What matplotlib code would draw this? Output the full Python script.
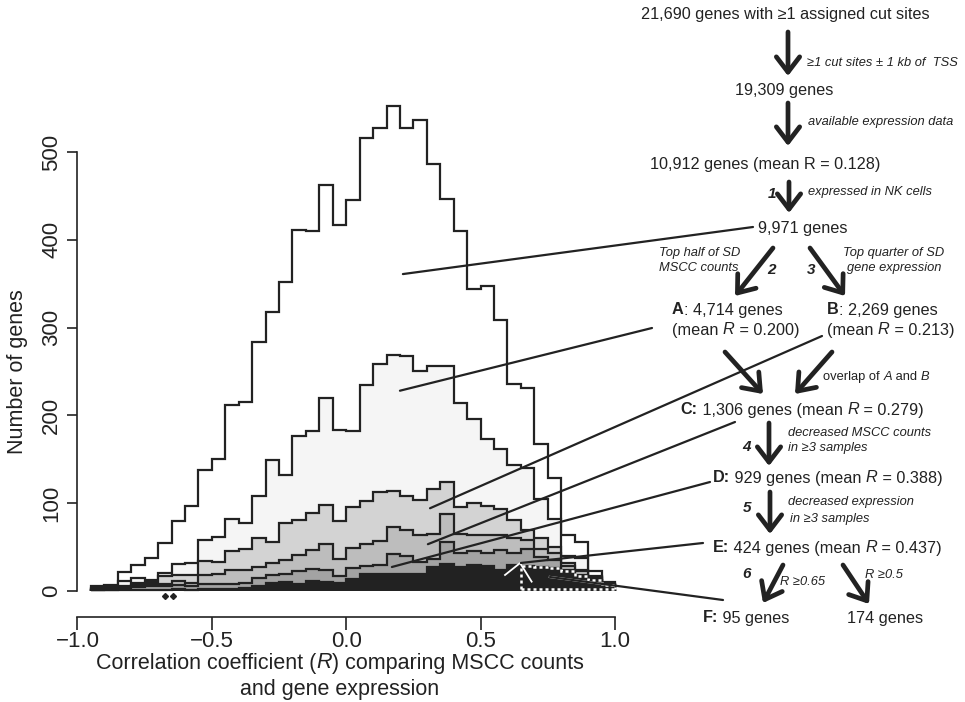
import numpy as np
import matplotlib.pyplot as plt
from matplotlib.patches import ConnectionPatch

plt.rcParams['font.family'] = ['Liberation Sans', 'DejaVu Sans']

# histogram bins of R, width 0.05 from -0.95 to 1.0
edges = np.linspace(-0.95, 1.0, 40)

genes_9971 = [5, 7, 21, 29, 37, 54, 80, 96, 138, 150, 212, 215,
              284, 318, 352, 411, 410, 463, 417, 446, 516, 527, 553, 527, 537,
              486, 447, 410, 344, 347, 309,
              236, 231, 167, 129, 64, 55, 22, 10]
set_a = [3, 5, 11, 14, 12, 20, 30, 31, 58, 61, 82, 77,
         108, 149, 132, 176, 182, 220, 183, 182, 234, 258, 269, 268, 250,
         256, 256, 214, 196, 173, 161, 143, 140, 105, 82, 40, 37, 17, 8]
set_b = [2, 3, 5, 9, 10, 17, 18, 18, 34, 33, 45, 48,
         60, 55, 77, 81, 88, 98, 80, 95, 102, 113, 114, 108, 103,
         116, 124, 95, 100, 96, 93, 81, 69, 60, 50, 31, 24, 16, 8]
set_c = [1, 2, 4, 7, 8, 8, 11, 9, 18, 19, 24, 24,
         27, 32, 35, 41, 46, 53, 36, 49, 53, 57, 73, 69, 63,
         65, 87, 65, 64, 64, 63, 60, 58, 48, 43, 28, 22, 14, 7]
set_d = [1, 1, 2, 4, 5, 5, 6, 5, 8, 8, 8, 9,
         15, 18, 19, 22, 25, 24, 17, 26, 28, 29, 42, 40, 33,
         36, 56, 43, 45, 43, 46, 43, 48, 38, 35, 24, 18, 12, 6]
set_e = [1, 1, 1, 1, 1, 1, 2, 1, 2, 2, 2, 3,
         5, 9, 10, 8, 11, 10, 9, 13, 19, 19, 19, 19, 19,
         27, 30, 27, 29, 28, 24, 29, 28, 27, 26, 22, 17, 12, 6]
f_edges = edges[32:]
set_f = [28, 27, 26, 22, 17, 12, 6]

fills = ['white', '#f5f5f5', '#d3d3d3', '#bdbdbd', '#a3a3a3', '#222222']
ink = '#222222'

fig = plt.figure(figsize=(9.65, 7.02), dpi=100)
ax = fig.add_axes([0.0524, 0.1211, 0.6127, 0.7496])
ax.set_xlim(-1.1, 1.1)
ax.set_ylim(-30, 570)

e_patch = None
for vals, col in zip([genes_9971, set_a, set_b, set_c, set_d, set_e], fills):
    p = ax.stairs(vals, edges, baseline=0, fill=True, facecolor=col, edgecolor='none')
    ax.stairs(vals, edges, baseline=0, color=ink, lw=1.6)
    e_patch = p

# F subset: white dotted outline
ax.stairs(set_f, f_edges, baseline=2, color='white', lw=1.8, linestyle=(0, (1.2, 1.2)))
ax.plot([f_edges[0], f_edges[-1]], [2, 2], color='white', lw=1.8, linestyle=(0, (1.2, 1.2)))

# white pointer inside the black histogram
ax.plot([0.591, 0.647, 0.690], [17.9, 31.5, 10.3], color='white', lw=1.3)

# ** marks
ax.plot([-0.675, -0.645], [-6, -6], 'D', ms=3, color=ink)

for s in ['top', 'right']:
    ax.spines[s].set_visible(False)
ax.spines['left'].set_position(('data', -1.0))
ax.spines['left'].set_bounds(0, 500)
ax.spines['bottom'].set_bounds(-1, 1)
for s in ['left', 'bottom']:
    ax.spines[s].set_linewidth(1.2)
    ax.spines[s].set_color(ink)
ax.set_xticks([-1, -0.5, 0, 0.5, 1])
ax.set_xticklabels(['\u22121.0', '\u22120.5', '0.0', '0.5', '1.0'])
ax.set_yticks([0, 100, 200, 300, 400, 500])
ax.set_yticklabels(['0', '100', '200', '300', '400', '500'], rotation=90, va='center')
ax.tick_params(axis='x', direction='out', length=9, width=1.2, labelsize=16, pad=1, colors=ink)
ax.tick_params(axis='y', direction='out', length=7, width=1.2, labelsize=16, pad=4, colors=ink)
ax.patch.set_alpha(0)

# overlay in pixel coordinates for labels and flowchart
ov = fig.add_axes([0, 0, 1, 1])
ov.set_xlim(0, 965)
ov.set_ylim(702, 0)
ov.axis('off')
ov.patch.set_alpha(0)
renderer = fig.canvas.get_renderer()

B = dict(weight='bold')
I = dict(style='italic')
N = dict()


def rich(x, y, parts, ha='left', size=11.7):
    # pieces of text with their own weight/style, laid side by side
    texts = [ov.text(0, y, s, size=size, va='center', color=ink, **kw) for s, kw in parts]
    widths = [t.get_window_extent(renderer).width for t in texts]
    x0 = x - sum(widths) / 2 if ha == 'center' else x
    for t, w in zip(texts, widths):
        t.set_x(x0)
        x0 += w


rich(340, 663, [('Correlation coefficient (', N), ('R', I), (') comparing MSCC counts', N)],
     ha='center', size=15.5)
ov.text(340, 689, 'and gene expression', ha='center', va='center', size=15.5, color=ink)
ov.text(18, 372, 'Number of genes', rotation=90, ha='center', va='center', size=15.5, color=ink)

main = dict(size=11.7, va='center', color=ink)
note = dict(size=9.3, va='center', style='italic', color=ink)
step = dict(size=11, va='center', ha='center', style='italic', weight='bold', color=ink)

ov.text(785, 15, '21,690 genes with \u22651 assigned cut sites', ha='center', **main)
ov.text(807, 63, '\u22651 cut sites \u00b1 1 kb of  TSS', ha='left', **note)
ov.text(784, 91, '19,309 genes', ha='center', **main)
ov.text(808, 122, 'available expression data', ha='left', **note)
ov.text(765, 164, '10,912 genes (mean R = 0.128)', ha='center', **main)
ov.text(772, 194, '1', **step)
ov.text(808, 192, 'expressed in NK cells', ha='left', **note)
ov.text(803, 228, '9,971 genes', ha='center', **main)

ov.text(659, 253, 'Top half of SD', ha='left', **note)
ov.text(659, 268, 'MSCC counts', ha='left', **note)
ov.text(771, 270, '2', **step)
ov.text(811, 270, '3', **step)
ov.text(894, 253, 'Top quarter of SD', ha='center', **note)
ov.text(894, 268, 'gene expression', ha='center', **note)

rich(672, 310, [('A', B), (': 4,714 genes', N)])
rich(672, 330, [('(mean ', N), ('R', I), (' = 0.200)', N)])
rich(827, 310, [('B', B), (': 2,269 genes', N)])
rich(827, 330, [('(mean ', N), ('R', I), (' = 0.213)', N)])
rich(823, 377, [('overlap of ', N), ('A', I), (' and ', N), ('B', I)], size=9.3)

rich(802, 410, [('C:', B), (' 1,306 genes (mean ', N), ('R', I), (' = 0.279)', N)], ha='center')
ov.text(746, 447, '4', **step)
ov.text(788, 433, 'decreased MSCC counts', ha='left', **note)
ov.text(788, 448, 'in \u22653 samples', ha='left', **note)

rich(713, 478, [('D:', B), (' 929 genes (mean ', N), ('R', I), (' = 0.388)', N)])
ov.text(747, 508, '5', **step)
ov.text(788, 502, 'decreased expression', ha='left', **note)
ov.text(790, 519, 'in \u22653 samples', ha='left', **note)

rich(713, 548, [('E:', B), (' 424 genes (mean ', N), ('R', I), (' = 0.437)', N)])
ov.text(747, 574, '6', **step)
ov.text(780, 582, 'R \u22650.65', ha='left', **note)
ov.text(865, 575, 'R \u22650.5', ha='left', **note)
rich(746, 618, [('F:', B), (' 95 genes', N)], ha='center')
ov.text(885, 618, '174 genes', ha='center', **main)

arrows = [((788, 32), (788, 76)), ((788, 103), (788, 146)), ((789, 182), (789, 213)),
          ((773, 248), (735, 296)), ((810, 248), (845, 296)),
          ((725, 352), (763, 394)), ((832, 352), (795, 394)),
          ((769, 423), (769, 466)), ((770, 492), (770, 534)),
          ((783, 565), (763, 603)), ((843, 565), (869, 604))]
for start, end in arrows:
    ov.annotate('', xy=end, xytext=start,
                arrowprops=dict(arrowstyle='->, head_length=0.55, head_width=0.42',
                                lw=3.4, color=ink, shrinkA=0, shrinkB=0, mutation_scale=20))

# connector lines: histogram point -> flowchart label
links = [((0.211, 361), (753, 227)), ((0.20, 228), (652, 328)), ((0.312, 94), (822, 336)),
         ((0.304, 53), (735, 422)), ((0.17, 27), (710, 482)), ((0.65, 31.6), (703, 543)),
         ((0.758, 15.6), (723, 600))]
for (hx, hy), (px, py) in links:
    con = ConnectionPatch(xyA=(hx, hy), coordsA=ax.transData, xyB=(px, py), coordsB=ov.transData,
                          color=ink, lw=1.6)
    fig.add_artist(con)

# the F link shows white where it crosses the black histogram
(hx, hy), (px, py) = links[-1]
fx, fy = ax.transData.inverted().transform(ov.transData.transform((px, py)))
wl, = ax.plot([hx, fx], [hy, fy], color='white', lw=1.6, zorder=5)
wl.set_clip_path(e_patch)

fig.savefig('out.png', dpi=100)
